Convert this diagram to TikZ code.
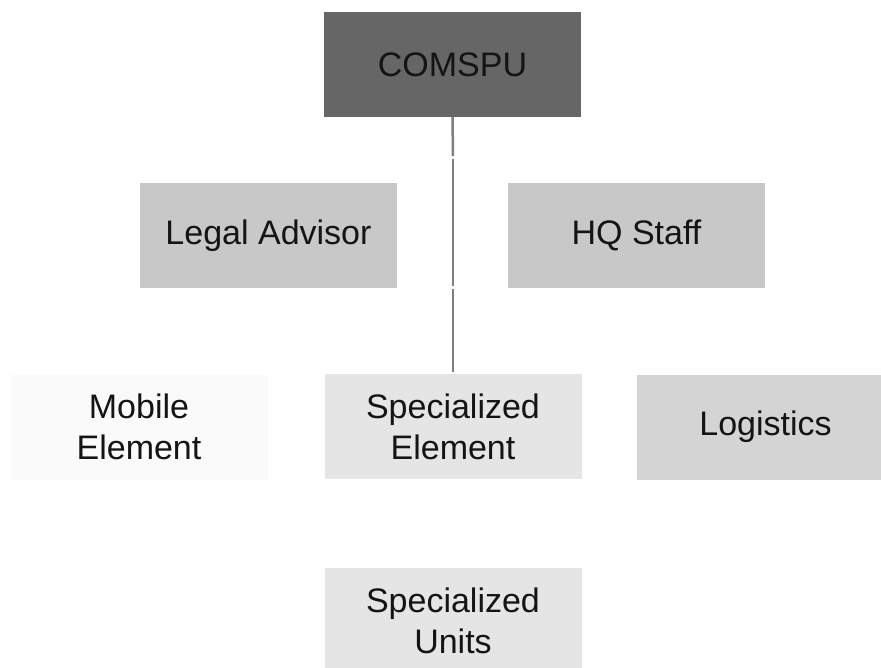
\documentclass[tikz,border=0pt]{standalone}
\usepackage{fontspec}
\setmainfont{Liberation Sans}
\usetikzlibrary{positioning}

\definecolor{topgray}{HTML}{666666}
\definecolor{staffgray}{HTML}{C8C8C8}
\definecolor{elemgray}{HTML}{E5E5E5}
\definecolor{mobgray}{HTML}{FAFAFA}
\definecolor{loggray}{HTML}{D4D4D4}
\definecolor{linegray}{HTML}{7F7F7F}

\begin{document}
\begin{tikzpicture}[x=1pt,y=-1pt,
	unit box/.style={rectangle,fill=#1,minimum width=257pt,minimum height=105pt,inner sep=0pt,align=center,text=black!92,font=\fontsize{34}{41}\selectfont},
	link/.style={draw=linegray,line width=2.5pt}]
	
	\useasboundingbox (0,0) rectangle (881,668);
	\clip (0,0) rectangle (881,668);
	
	\node[unit box=topgray] (comspu) at (452.5,64.5) {COMSPU};
	\node[unit box=staffgray] (legal) at (268.5,235.5) {Legal Advisor};
	\node[unit box=staffgray] (hq) at (636.5,235.5) {HQ Staff};
	\node[unit box=mobgray] (mobile) at (139,427) {Mobile\\Element};
	\node[unit box=elemgray] (specel) at (453,426.5) {Specialized\\Element};
	\node[unit box=loggray] (logist) at (765.5,427) {Logistics};
	\node[unit box=elemgray] (specunits) at (453,620.5) {Specialized\\Units};
	
	\coordinate (j1a) at (453,156);
	\coordinate (j1b) at (453,159);
	\coordinate (j2a) at (453,286);
	\coordinate (j2b) at (453,289);
	
	\draw[link] (comspu.south) -- (j1a);
	\draw[link] (j1b) -- (j2a);
	\draw[link] (j2b) -- ([yshift=2pt]specel.north);
	\end{tikzpicture}
\end{document}
